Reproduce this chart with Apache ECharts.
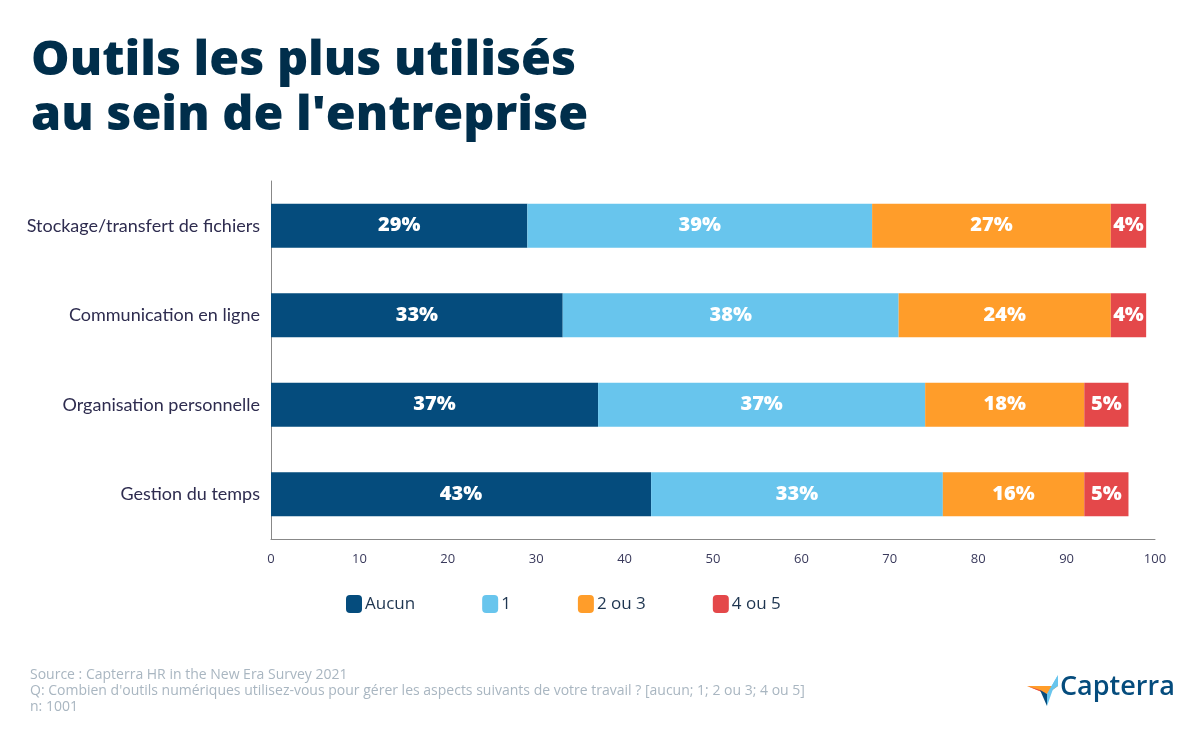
<!DOCTYPE html>
<html><head><meta charset="utf-8">
<script src="https://cdn.jsdelivr.net/npm/echarts@6/dist/echarts.min.js"></script>
<style>html,body{margin:0;padding:0;background:#fff}#c{width:1200px;height:740px}</style>
</head><body><div id="c"></div>
<script>
const categories = ['Stockage/transfert de fichiers','Communication en ligne','Organisation personnelle','Gestion du temps'];
const seriesNames = ['Aucun','1','2 ou 3','4 ou 5'];
const aucun = [29,33,37,43];
const un = [39,38,37,33];
const deuxTrois = [27,24,18,16];
const quatreCinq = [4,4,5,5];
const xTicks = [0,10,20,30,40,50,60,70,80,90,100];
const colors = ['#054C7D','#68C5ED','#FF9D2A','#E4484A'];
const values = [aucun, un, deuxTrois, quatreCinq];

const chart = echarts.init(document.getElementById('c'));
chart.setOption({
  animation:false,
  backgroundColor:'#fff',
  title:{text:"Outils les plus utilisés\nau sein de l'entreprise",left:26,top:29,
    textStyle:{fontFamily:'Open Sans',fontWeight:800,fontSize:48.5,lineHeight:55,color:'#002E4B'}},
  legend:{left:341,top:590,itemWidth:16,itemHeight:18,itemGap:67,icon:'roundRect',
    data:seriesNames,
    textStyle:{fontFamily:'Open Sans',fontSize:17,color:'#1E3550',padding:[0,0,0,-2]}},
  grid:{left:271,right:45,top:181,bottom:201,containLabel:false},
  xAxis:{type:'value',min:xTicks[0],max:xTicks[xTicks.length-1],interval:10,
    axisLine:{show:true,lineStyle:{color:'#888',width:1}},axisTick:{show:false},
    splitLine:{show:false},
    axisLabel:{margin:14,fontFamily:'Open Sans',fontSize:13,color:'#3A3A5C'}},
  yAxis:{type:'category',data:categories,inverse:true,
    axisLine:{show:true,lineStyle:{color:'#888',width:1}},axisTick:{show:false},
    axisLabel:{margin:11,fontFamily:'Lato',fontSize:18,color:'#2E2C4F'}},
  series: seriesNames.map((n,i)=>({
    name:n,type:'bar',stack:'total',barWidth:44,
    itemStyle:{color:colors[i]},
    label:{show:true,position:'inside',formatter:p=>p.value+'%',
      fontFamily:'Open Sans',fontWeight:800,fontSize:20,color:'#fff'},
    data:values[i]
  })),
  graphic:[
    {type:'text',left:30,top:667,style:{text:'Source : Capterra HR in the New Era Survey 2021\nQ: Combien d\'outils numériques utilisez-vous pour gérer les aspects suivants de votre travail ? [aucun; 1; 2 ou 3; 4 ou 5]\nn: 1001',
      font:'14px "Open Sans"',lineHeight:16,fill:'#A9B6C1'}},
    {type:'polygon',shape:{points:[[1027,686],[1058,686],[1047,694]]},style:{fill:'#FF9D2A'}},
    {type:'polygon',shape:{points:[[1058,675],[1058,686],[1047,694]]},style:{fill:'#68C5ED'}},
    {type:'polygon',shape:{points:[[1058,675],[1047,694],[1047,706]]},style:{fill:'#68C5ED'}},
    {type:'polygon',shape:{points:[[1027,686],[1047,694],[1040,690]]},style:{fill:'#E4484A'}},
    {type:'polygon',shape:{points:[[1047,694],[1047,706],[1040,690]]},style:{fill:'#054C7D'}},
    {type:'text',left:1060,top:674,style:{text:'Capterra',font:'600 27px "Open Sans"',fill:'#054C7D'}}
  ]
});
</script></body></html>
